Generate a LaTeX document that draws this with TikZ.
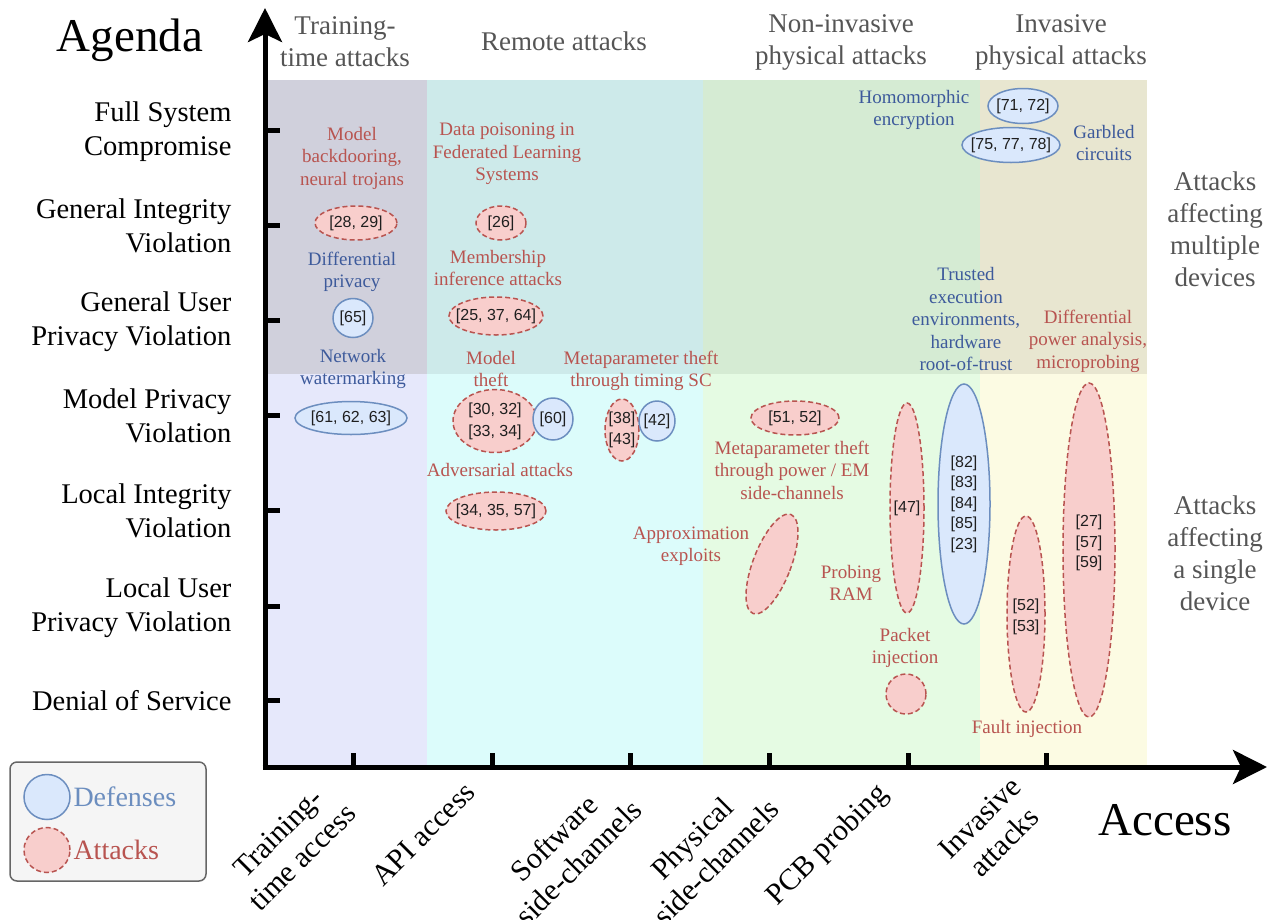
\documentclass[tikz,border=0pt]{standalone}
\usepackage{fontspec}
\setmainfont{Liberation Serif}
\newfontfamily\citefont{Liberation Sans}
\usetikzlibrary{shapes.geometric,arrows.meta}
\definecolor{deffill}{HTML}{DAE8FC}
\definecolor{defline}{HTML}{6C8EBF}
\definecolor{atkfill}{HTML}{F8CECC}
\definecolor{atkline}{HTML}{B85450}
\definecolor{atkred}{HTML}{B85450}
\definecolor{defblue}{HTML}{3D5A9B}
\definecolor{hdrgray}{HTML}{555555}
\definecolor{trTop}{HTML}{D0D0DC}
\definecolor{trBot}{HTML}{E6E8FB}
\definecolor{reTop}{HTML}{CDEAEA}
\definecolor{reBot}{HTML}{DCFCFB}
\definecolor{niTop}{HTML}{D5EBD3}
\definecolor{niBot}{HTML}{E5FBE3}
\definecolor{inTop}{HTML}{E8E6D0}
\definecolor{inBot}{HTML}{FCFBE3}
\definecolor{legfill}{HTML}{F5F5F5}
\definecolor{legline}{HTML}{666666}
\begin{document}
\begin{tikzpicture}[x=1pt,y=-1pt,
  hdr/.style={text=hdrgray, font=\fontsize{27}{32}\selectfont, align=center},
  ylab/.style={font=\fontsize{28.5}{34}\selectfont, align=right, anchor=east},
  xlab/.style={font=\fontsize{30}{34.5}\selectfont, align=center, rotate=45},
  rtxt/.style={text=atkred, font=\fontsize{19}{22.5}\selectfont, align=center},
  btxt/.style={text=defblue, font=\fontsize{19}{22.5}\selectfont, align=center},
  cite/.style={font=\citefont\fontsize{16}{20.5}\selectfont, align=center, text=black!88},
  defshape/.style={ellipse, draw=defline, fill=deffill, line width=1.5pt, inner sep=0pt},
  atkshape/.style={ellipse, draw=atkline, fill=atkfill, line width=1.5pt, dash pattern=on 5pt off 3pt, inner sep=0pt},
  axisline/.style={line width=5pt, -{Stealth[length=34pt,width=34pt,inset=8pt]}},
  tickline/.style={line width=5pt}
]
\useasboundingbox (0,0) rectangle (1267,919);
% background columns
\fill[trTop] (265,80) rectangle (427,374);
\fill[trBot] (265,374) rectangle (427,767);
\fill[reTop] (427,80) rectangle (703,374);
\fill[reBot] (427,374) rectangle (703,767);
\fill[niTop] (703,80) rectangle (980,374);
\fill[niBot] (703,374) rectangle (980,767);
\fill[inTop] (980,80) rectangle (1147,374);
\fill[inBot] (980,374) rectangle (1147,767);

% headers
\node[hdr] (h1) at (345,42) {Training-\\time attacks};
\node[hdr] (h2) at (564,41) {Remote attacks};
\node[hdr] (h3) at (841,42) {Non-invasive\\physical attacks};
\node[hdr] (h4) at (1061,42) {Invasive\\physical attacks};
\node[hdr] (r1) at (1215,229) {Attacks\\affecting\\multiple\\devices};
\node[hdr] (r2) at (1215,553) {Attacks\\affecting\\a single\\device};

\node[font=\fontsize{47}{50}\selectfont] (agenda) at (130,40) {Agenda};
\node[font=\fontsize{47}{50}\selectfont] (access) at (1165,820) {Access};

% y labels
\node[ylab] (y1) at (235,132) {Full System\\Compromise};
\node[ylab] (y2) at (235,226) {General Integrity\\Violation};
\node[ylab] (y3) at (235,322) {General User\\Privacy Violation};
\node[ylab] (y4) at (235,416) {Model Privacy\\Violation};
\node[ylab] (y5) at (235,511) {Local Integrity\\Violation};
\node[ylab] (y6) at (235,608) {Local User\\Privacy Violation};
\node[ylab] (y7) at (235,701) {Denial of Service};

% x labels
\node[xlab] (x1) at (290,845) {Training-\\time access};
\node[xlab] (x2) at (423,834) {API access};
\node[xlab] (x3) at (566,850) {Software\\side-channels};
\node[xlab] (x4) at (704,850) {Physical\\side-channels};
\node[xlab] (x5) at (828,846) {PCB probing};
\node[xlab] (x6) at (992,830) {Invasive\\attacks};

% axes
\coordinate (O) at (265,767);
\coordinate (Ytip) at (265,8);
\coordinate (Xtip) at (1267,767);
\coordinate (Ostart) at (265,769.5);
\coordinate (Xstart) at (262.5,767);
\draw[axisline] (Ostart) -- (Ytip);
\draw[axisline] (Xstart) -- (Xtip);
\foreach \yy in {130,225,320,415,510,606,700}
  \draw[tickline] (265,\yy) -- (280,\yy);
\foreach \xx in {353,492,630,769,908,1046}
  \draw[tickline] (\xx,767) -- (\xx,753);

% training-time column
\node[rtxt] (t1) at (352,158) {Model\\backdooring,\\neural trojans};
\node[atkshape, minimum width=82, minimum height=34] (e2829) at (356,223) {};
\node[cite] at (e2829) {[28, 29]};
\node[btxt] (t2) at (352,272) {Differential\\privacy};
\node[defshape, minimum width=40, minimum height=39] (e65) at (353,318) {};
\node[cite] at (e65) {[65]};
\node[btxt] (t3) at (353,369) {Network\\watermarking};
\node[defshape, minimum width=112, minimum height=33] (e616263) at (351,418) {};
\node[cite] at (e616263) {[61, 62, 63]};

% remote column
\node[rtxt] (t4) at (507,154) {Data poisoning in\\Federated Learning\\Systems};
\node[atkshape, minimum width=50, minimum height=34] (e26) at (501,223) {};
\node[cite] at (e26) {[26]};
\node[rtxt] (t5) at (498,268) {Membership\\inference attacks};
\node[atkshape, minimum width=94, minimum height=38] (e253764) at (496,316) {};
\node[cite] at (e253764) {[25, 37, 64]};
\node[rtxt] (t6) at (491,369) {Model\\theft};
\node[atkshape, minimum width=84, minimum height=63] (e3034) at (495,421) {};
\node[cite, font=\citefont\fontsize{16}{22}\selectfont] at (e3034) {[30, 32]\\{}[33, 34]};
\node[defshape, minimum width=40, minimum height=42] (e60) at (553,419) {};
\node[cite] at (e60) {[60]};
\node[rtxt] (t7) at (641,371) {Metaparameter theft\\through timing SC};
\node[atkshape, minimum width=34, minimum height=62] (e3843) at (622,430) {};
\node[cite] at (e3843) {[38]\\{}[43]};
\node[defshape, minimum width=36, minimum height=40] (e42) at (657,421) {};
\node[cite] at (e42) {[42]};
\node[rtxt] (t8) at (500,470) {Adversarial attacks};
\node[atkshape, minimum width=100, minimum height=38] (e343557) at (496,511) {};
\node[cite] at (e343557) {[34, 35, 57]};

% non-invasive column
\node[atkshape, minimum width=88, minimum height=34] (e5152) at (795,418) {};
\node[cite] at (e5152) {[51, 52]};
\node[rtxt] (t9) at (792,470) {Metaparameter theft\\through power / EM\\side-channels};
\node[rtxt] (t10) at (691,546) {Approximation\\exploits};
\node[atkshape, minimum width=38, minimum height=106, rotate=-21] (eapprox) at (772,564) {};
\node[rtxt] (t11) at (851,583) {Probing\\RAM};
\node[atkshape, minimum width=34, minimum height=210] (e47) at (907,508) {};
\node[cite] at (e47) {[47]};
\node[rtxt] (t12) at (905,648) {Packet\\injection};
\node[atkshape, minimum width=40, minimum height=40] (epacket) at (906,694) {};
\node[btxt] (t13) at (966,319) {Trusted\\execution\\environments,\\hardware\\root-of-trust};
\node[defshape, minimum width=52, minimum height=240] (etee) at (964,504) {};
\node[cite] at (etee) {[82]\\{}[83]\\{}[84]\\{}[85]\\{}[23]};
\node[btxt] (t14) at (914,110) {Homomorphic\\encryption};

% invasive column
\node[defshape, minimum width=70, minimum height=35] (e7172) at (1023,106) {};
\node[cite] at (e7172) {[71, 72]};
\node[defshape, minimum width=98, minimum height=35] (e757778) at (1011,145) {};
\node[cite] at (e757778) {[75, 77, 78]};
\node[btxt] (t15) at (1104,143) {Garbled\\circuits};
\node[rtxt] (t16) at (1088,341) {Differential\\power analysis,\\microprobing};
\node[atkshape, minimum width=38, minimum height=196] (e5253) at (1026,614) {};
\node[cite] at (1026,617) {[52]\\{}[53]};
\node[atkshape, minimum width=52, minimum height=334] (e275759) at (1089,550) {};
\node[cite] at (1089,543) {[27]\\{}[57]\\{}[59]};
\node[rtxt] (t17) at (1027,729) {Fault injection};

% legend
\node[draw=legline, fill=legfill, line width=1.5pt, rounded corners=7pt, minimum width=196, minimum height=119, inner sep=0pt] (legend) at (108,821.5) {};
\node[defshape, minimum width=46, minimum height=45] (ldef) at (47,797) {};
\node[atkshape, minimum width=46, minimum height=45] (latk) at (47,850) {};
\node[anchor=west, text=defline, font=\fontsize{28}{32}\selectfont] (tdef) at (70,797) {Defenses};
\node[anchor=west, text=atkred, font=\fontsize{28}{32}\selectfont] (tatk) at (70,850) {Attacks};
\end{tikzpicture}
\end{document}
